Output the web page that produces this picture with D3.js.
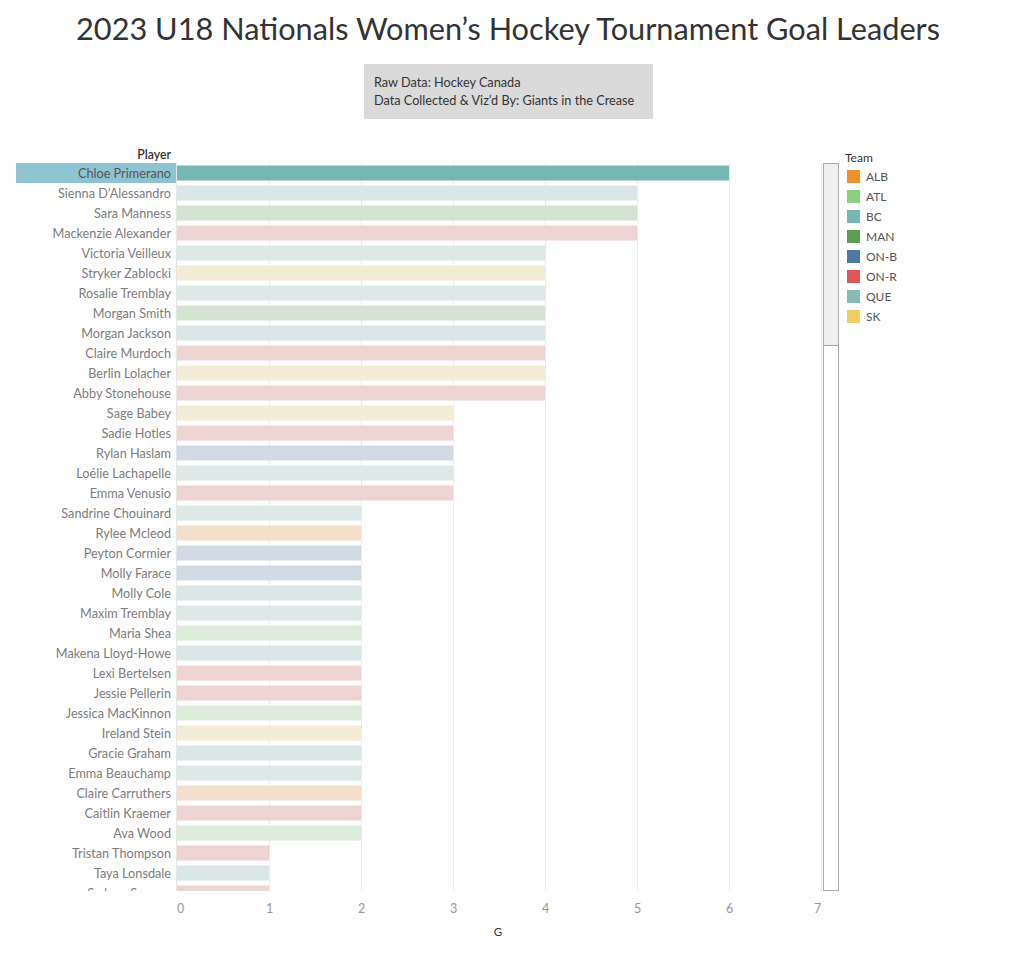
<!DOCTYPE html>
<html><head><meta charset="utf-8">
<script src="https://cdn.jsdelivr.net/npm/d3@7"></script>
<style>body{margin:0;background:#fff;} svg{display:block;font-family:Lato,"Open Sans",sans-serif;}</style>
</head><body>
<svg id="chart" width="1015" height="963"></svg>
<script>
const players = ["Chloe Primerano","Sienna D’Alessandro","Sara Manness","Mackenzie Alexander","Victoria Veilleux","Stryker Zablocki","Rosalie Tremblay","Morgan Smith","Morgan Jackson","Claire Murdoch","Berlin Lolacher","Abby Stonehouse","Sage Babey","Sadie Hotles","Rylan Haslam","Loélie Lachapelle","Emma Venusio","Sandrine Chouinard","Rylee Mcleod","Peyton Cormier","Molly Farace","Molly Cole","Maxim Tremblay","Maria Shea","Makena Lloyd-Howe","Lexi Bertelsen","Jessie Pellerin","Jessica MacKinnon","Ireland Stein","Gracie Graham","Emma Beauchamp","Claire Carruthers","Caitlin Kraemer","Ava Wood","Tristan Thompson","Taya Lonsdale","Sydney Sawyer"];
const goals = [6,5,5,5,4,4,4,4,4,4,4,4,3,3,3,3,3,2,2,2,2,2,2,2,2,2,2,2,2,2,2,2,2,2,1,1,1];
const playerTeams = ["BC","BC","MAN","ON-R","QUE","SK","QUE","MAN","BC","ON-R","SK","ON-R","SK","ON-R","ON-B","QUE","ON-R","QUE","ALB","ON-B","ON-B","BC","QUE","ATL","BC","ON-R","ON-R","ATL","SK","BC","QUE","ALB","ON-R","ATL","ON-R","BC","ON-R"];
const teams = ["ALB","ATL","BC","MAN","ON-B","ON-R","QUE","SK"];
const teamColors = ["#f28e2b","#8cd17d","#76b7b2","#59a14f","#4e79a7","#e15759","#86bcb6","#f1ce63"];
const highlighted = "Chloe Primerano";
const xTicks = [0,1,2,3,4,5,6,7];
const titleText = "2023 U18 Nationals Women’s Hockey Tournament Goal Leaders";
const captionLines = ["Raw Data: Hockey Canada","Data Collected & Viz’d By: Giants in the Crease"];

const data = players.map((p,i)=>({player:p, g:goals[i], team:playerTeams[i]}));
const svg = d3.select("#chart");
const color = d3.scaleOrdinal().domain(teams).range(teamColors);
const fade = c => d3.interpolateRgb(c, "#f3f3f3")(0.8);

const x = d3.scaleLinear().domain([0,7]).range([177,821]);
const y = d3.scaleBand().domain(players).range([163, 163 + 20*players.length]).paddingInner(0.25).paddingOuter(0.125);
const clipTop = 163, clipBottom = 891;

// title
svg.append("text").attr("x",508).attr("y",40).attr("text-anchor","middle")
  .attr("font-size",30).attr("fill","#333").attr("textLength",864).attr("lengthAdjust","spacingAndGlyphs")
  .text(titleText);

// caption box
svg.append("rect").attr("x",364).attr("y",64).attr("width",289).attr("height",55).attr("fill","#dadada");
captionLines.forEach((t,i)=>svg.append("text").attr("x",374).attr("y",87+18*i)
  .attr("font-size",12.7).attr("fill","#333").text(t));

// clip
const defs = svg.append("defs");
defs.append("clipPath").attr("id","clip").append("rect")
  .attr("x",0).attr("y",clipTop).attr("width",830).attr("height",clipBottom-clipTop);

// gridlines
svg.append("g").selectAll("line").data(xTicks.slice(1)).join("line")
  .attr("x1",d=>x(d)+0.5).attr("x2",d=>x(d)+0.5).attr("y1",clipTop).attr("y2",clipBottom)
  .attr("stroke","#ececec").attr("stroke-width",1);
svg.append("line").attr("x1",176.5).attr("x2",176.5).attr("y1",clipTop).attr("y2",clipBottom)
  .attr("stroke","#e6e6e6");

const body = svg.append("g").attr("clip-path","url(#clip)");

// highlight label background
body.append("rect").attr("x",16).attr("y",y(highlighted)-y.step()*0.125).attr("width",160).attr("height",y.step())
  .attr("fill","#8ec3d2");

// bars
body.selectAll("rect.bar").data(data).join("rect").attr("class","bar")
  .attr("x",x(0)).attr("y",d=>y(d.player)).attr("height",y.bandwidth())
  .attr("width",d=>x(d.g)-x(0))
  .attr("fill",d=>d.player===highlighted ? color(d.team) : fade(color(d.team)));

// labels
body.selectAll("text.lab").data(data).join("text").attr("class","lab")
  .attr("x",171).attr("y",d=>y(d.player)+y.bandwidth()/2).attr("dy","0.4em")
  .attr("text-anchor","end").attr("font-size",12.7)
  .attr("fill",d=>d.player===highlighted ? "#555" : "#7d7d7d").text(d=>d.player);

// Player header
svg.append("text").attr("x",171).attr("y",159).attr("text-anchor","end")
  .attr("font-size",12.3).attr("font-weight",600).attr("fill","#333").text("Player");

// x axis
const xAxis = svg.append("g").attr("transform","translate(0,896)")
  .call(d3.axisBottom(x).tickValues(xTicks).tickSize(0).tickPadding(8).tickFormat(d3.format("d")));
xAxis.select(".domain").remove();
xAxis.selectAll("text").attr("font-size",12.5).attr("fill","#999").attr("font-family","Lato,sans-serif")
  .attr("dx",d=>d===0?3:(d===7?-4:0));
svg.append("text").attr("x",498).attr("y",936).attr("text-anchor","middle")
  .attr("font-size",11.5).attr("fill","#333").text("G");

// scrollbar
svg.append("rect").attr("x",823.5).attr("y",163.5).attr("width",15).attr("height",727)
  .attr("fill","#fff").attr("stroke","#aaa");
svg.append("rect").attr("x",823.5).attr("y",163.5).attr("width",15).attr("height",182)
  .attr("fill","#efefef").attr("stroke","#aaa");

// legend
svg.append("text").attr("x",845).attr("y",162).attr("font-size",12).attr("fill","#333").text("Team");
const lg = svg.append("g").selectAll("g").data(teams).join("g")
  .attr("transform",(d,i)=>`translate(847,${170+20*i})`);
lg.append("rect").attr("width",13).attr("height",13).attr("fill",d=>color(d));
lg.append("text").attr("x",19).attr("y",6.5).attr("dy","0.35em").attr("font-size",12).attr("fill","#555").text(d=>d);
</script>
</body></html>
